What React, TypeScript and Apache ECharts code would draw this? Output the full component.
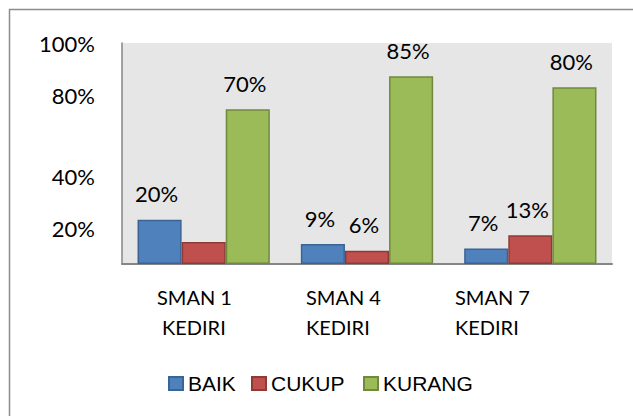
import React, { useEffect, useRef } from "react";
import * as echarts from "echarts";

const categories = ["SMAN 1 KEDIRI", "SMAN 4 KEDIRI", "SMAN 7 KEDIRI"];
const seriesNames = ["BAIK", "CUKUP", "KURANG"];
const baik = [20, 9, 7];
const cukup = [10, 6, 13];
const kurang = [70, 85, 80];
const yTickLabels = ["100%", "80%", "40%", "20%"];
// labels that the reference chart does not display (series index, data index)
const hiddenLabels = [[1, 0]];

const colors = ["#4f81bd", "#c0504d", "#9bbb59"];
const borders = ["#3a6494", "#8e3b38", "#71893f"];

export default function App() {
  const ref = useRef<HTMLDivElement>(null);
  useEffect(() => {
    if (!ref.current) return;
    const chart = echarts.init(ref.current, undefined, { renderer: "svg" });
    const values = [baik, cukup, kurang];
    const font = "Lato, 'Open Sans', sans-serif";

    const series = seriesNames.map((name, si) => ({
      name,
      type: "bar",
      barGap: "0%",
      barCategoryGap: "19%",
      itemStyle: { color: colors[si], borderColor: borders[si], borderWidth: 1.5 },
      label: {
        show: true,
        position: "top",
        distance: 15,
        offset: [-3, 0],
        color: "#000",
        fontFamily: font,
        fontSize: 22,
        formatter: "{c}%",
      },
      data: values[si].map((v, di) =>
        hiddenLabels.some(([s, d]) => s === si && d === di)
          ? { value: v, label: { show: false } }
          : v
      ),
    }));

    // y labels positions (as in the reference picture)
    const yLabelY = [43, 95, 176, 228];
    const catLine1X = [157, 306, 455];
    const catLine2X = [162, 306, 455];

    const graphics: any[] = [
      {
        type: "rect",
        shape: { x: 9.5, y: 9.5, width: 700, height: 500 },
        style: { fill: "none", stroke: "#8c8c8c", lineWidth: 1.5 },
        silent: true,
        z: -10,
      },
    ];
    yTickLabels.forEach((t, i) => {
      graphics.push({
        type: "text",
        x: 95,
        y: yLabelY[i],
        style: {
          text: t,
          fill: "#000",
          font: `22px ${font}`,
          textAlign: "right",
          textVerticalAlign: "middle",
        },
      });
    });
    categories.forEach((c, i) => {
      const parts = c.split(" ");
      const l1 = parts.slice(0, 2).join(" ");
      const l2 = parts.slice(2).join(" ");
      graphics.push({
        type: "text",
        x: catLine1X[i],
        y: 297,
        style: { text: l1, fill: "#000", font: `20px ${font}`, textAlign: "left", textVerticalAlign: "middle" },
      });
      graphics.push({
        type: "text",
        x: catLine2X[i],
        y: 327,
        style: { text: l2, fill: "#000", font: `20px ${font}`, textAlign: "left", textVerticalAlign: "middle" },
      });
    });

    const legendLefts = [163, 246, 358];
    const legends = seriesNames.map((n, i) => ({
      data: [n],
      left: legendLefts[i],
      top: 368,
      icon: "rect",
      itemWidth: 14,
      itemHeight: 13,
      textStyle: { fontFamily: "'Liberation Sans', Arial, sans-serif", fontSize: 21, color: "#000" },
      selectedMode: false,
    }));

    chart.setOption({
      animation: false,
      backgroundColor: "#ffffff",
      color: colors,
      legend: legends,
      grid: {
        left: 122,
        top: 43,
        width: 490,
        height: 221,
        show: true,
        backgroundColor: "#e6e6e6",
        borderWidth: 0,
        containLabel: false,
      },
      xAxis: {
        type: "category",
        data: categories,
        axisLine: { show: true, lineStyle: { color: "#868686", width: 2 } },
        axisTick: { show: false },
        axisLabel: { show: false },
      },
      yAxis: {
        type: "value",
        min: 0,
        max: 100,
        interval: 20,
        axisLine: { show: true, lineStyle: { color: "#868686", width: 1.5 } },
        axisTick: { show: false },
        axisLabel: { show: false },
        splitLine: { show: false },
      },
      series,
      graphic: graphics,
    });
    return () => chart.dispose();
  }, []);
  return (
    <div
      ref={ref}
      style={{ position: "fixed", left: 0, top: 0, width: 633, height: 416 }}
    />
  );
}
